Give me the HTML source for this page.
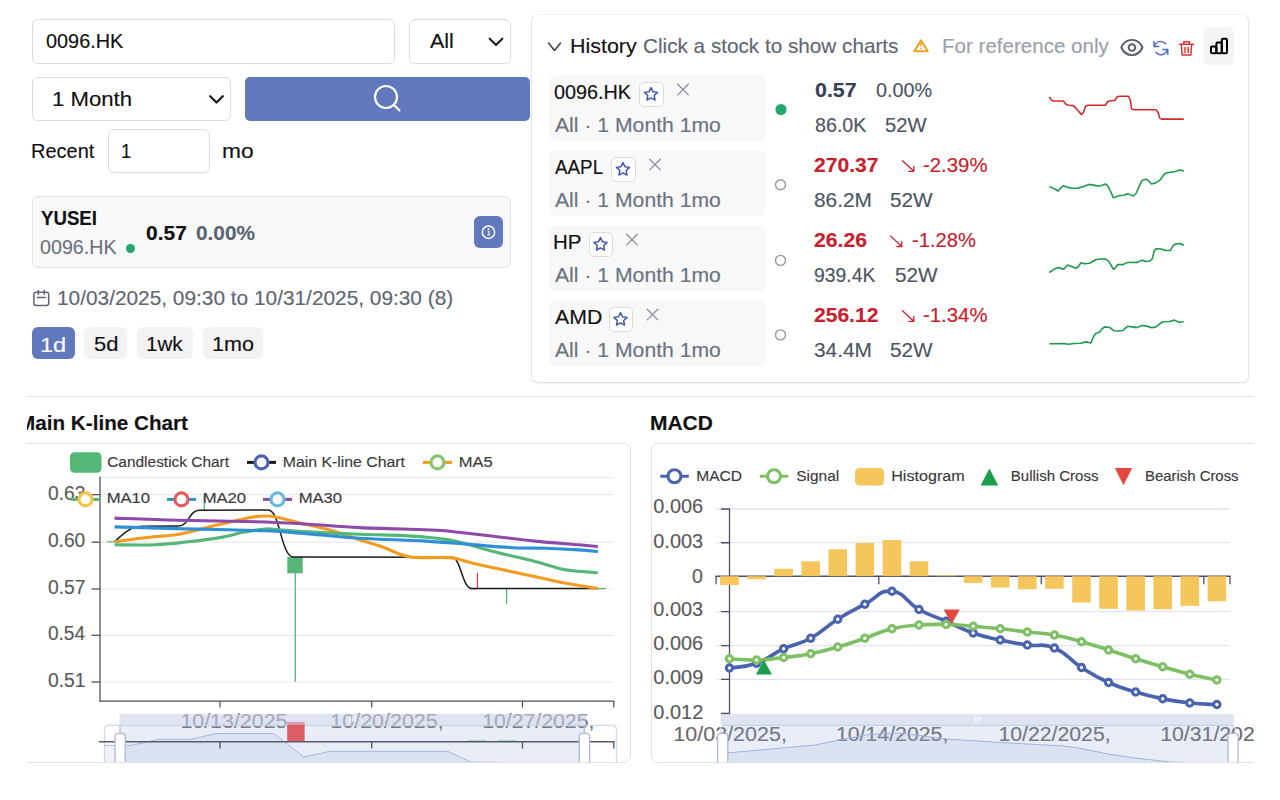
<!DOCTYPE html>
<html lang="en"><head><meta charset="utf-8"><title>Stock dashboard</title>
<style>
html,body{margin:0;padding:0}
body{width:1280px;height:800px;position:relative;overflow:hidden;background:#fff;font-family:"Liberation Sans",sans-serif;}
.t{position:absolute;white-space:nowrap;line-height:1;transform-origin:0 50%;display:block;-webkit-text-stroke:0.15px currentColor}
.b{position:absolute;box-sizing:border-box}
.inp{background:#fff;border:1px solid #dcdcdc;border-radius:6px}
svg{position:absolute;left:0;top:0;overflow:visible}
svg text{font-family:"Liberation Sans",sans-serif}
</style></head><body>
<div class="b inp" style="left:32px;top:19px;width:363px;height:44.5px"></div>
<span class="t" style="left:45.80px;top:30.00px;font-size:21px;color:#111;transform:scaleX(0.9462);">0096.HK</span>
<div class="b inp" style="left:409px;top:19px;width:102px;height:44.5px"></div>
<span class="t" style="left:429.50px;top:30.00px;font-size:21px;color:#111;transform:scaleX(1.0204);">All</span>
<div class="b inp" style="left:32px;top:77px;width:199px;height:44px"></div>
<span class="t" style="left:52.09px;top:88.00px;font-size:21px;color:#111;transform:scaleX(1.0552);">1 Month</span>
<div class="b" style="left:245px;top:76.6px;width:285.2px;height:44px;background:#5f79bc;border-radius:5px"></div>
<span class="t" style="left:30.90px;top:140.00px;font-size:21px;color:#111;transform:scaleX(0.9532);">Recent</span>
<div class="b inp" style="left:108px;top:128.6px;width:102px;height:44px"></div>
<span class="t" style="left:121.42px;top:140.00px;font-size:21px;color:#111;transform:scaleX(0.8758);">1</span>
<span class="t" style="left:221.77px;top:140.00px;font-size:21px;color:#111;transform:scaleX(1.0839);">mo</span>
<div class="b" style="left:32px;top:195.5px;width:479px;height:72px;background:#f9f9f9;border:1px solid #e4e4e4;border-radius:6px"></div>
<span class="t" style="left:40.72px;top:207.00px;font-size:21px;color:#111;font-weight:700;transform:scaleX(0.8873);">YUSEI</span>
<span class="t" style="left:39.81px;top:236.00px;font-size:21px;color:#6b7280;transform:scaleX(0.9369);">0096.HK</span>
<div class="b" style="left:125.5px;top:243.5px;width:9px;height:9px;border-radius:50%;background:#22a86e"></div>
<span class="t" style="left:145.52px;top:222.00px;font-size:21px;color:#111;font-weight:700;transform:scaleX(0.9995);">0.57</span>
<span class="t" style="left:196.02px;top:222.00px;font-size:21px;color:#5b6472;font-weight:700;transform:scaleX(0.9910);">0.00%</span>
<div class="b" style="left:474px;top:216px;width:29px;height:32px;background:#5f79bc;border-radius:6px"></div>
<span class="t" style="left:56.94px;top:287.00px;font-size:21px;color:#5f6672;transform:scaleX(0.9922);">10/03/2025, 09:30 to 10/31/2025, 09:30 (8)</span>
<div class="b" style="left:32px;top:327px;width:42.5px;height:32px;background:#5f79bc;border-radius:6px"></div>
<span class="t" style="left:40.23px;top:334.00px;font-size:21px;color:#fff;transform:scaleX(1.1233);">1d</span>
<div class="b" style="left:84px;top:327px;width:43px;height:32px;background:#f3f3f4;border-radius:6px"></div>
<span class="t" style="left:93.62px;top:333.00px;font-size:21px;color:#111;transform:scaleX(1.0490);">5d</span>
<div class="b" style="left:137px;top:327px;width:56px;height:32px;background:#f3f3f4;border-radius:6px"></div>
<span class="t" style="left:146.45px;top:333.00px;font-size:21px;color:#111;transform:scaleX(0.9816);">1wk</span>
<div class="b" style="left:203px;top:327px;width:60px;height:32px;background:#f3f3f4;border-radius:6px"></div>
<span class="t" style="left:212.13px;top:333.00px;font-size:21px;color:#111;transform:scaleX(1.0278);">1mo</span>
<svg width="1280" height="800" viewBox="0 0 1280 800">
<path d="M489.7,38.7 L496.0,45 L502.3,38.7" fill="none" stroke="#1a1a1a" stroke-width="2.2" stroke-linecap="round" stroke-linejoin="round"/>
<path d="M210.2,96.2 L216.5,102.5 L222.8,96.2" fill="none" stroke="#1a1a1a" stroke-width="2.2" stroke-linecap="round" stroke-linejoin="round"/>
<circle cx="386" cy="97" r="11" fill="none" stroke="#fff" stroke-width="2.2"/>
<path d="M394.2,105.2 L399.5,110.5" stroke="#fff" stroke-width="2.2" stroke-linecap="round"/>
<circle cx="488.5" cy="232.2" r="6.2" fill="none" stroke="#fff" stroke-width="1.5"/>
<circle cx="488.5" cy="229.2" r="0.9" fill="#fff"/><path d="M487.6,231.2h1.3v3.6M487.4,234.9h2.4" stroke="#fff" stroke-width="1" fill="none"/>
<rect x="33.9" y="292.3" width="14.8" height="13.1" rx="2.2" fill="none" stroke="#5f6672" stroke-width="1.5"/>
<path d="M37.3,297.6H45.3M38.3,290.5v3.8M44.3,290.5v3.8" stroke="#5f6672" stroke-width="1.5" fill="none" stroke-linecap="round"/>
</svg>
<div class="b" style="left:531px;top:14px;width:718px;height:368.5px;background:#fff;border:1px solid #e4e5e8;border-top-color:#f1f2f4;border-bottom-color:#dddfe3;border-radius:7px;box-shadow:0 1px 2px rgba(0,0,0,0.05)"></div>
<span class="t" style="left:569.53px;top:35.00px;font-size:21px;color:#111;transform:scaleX(1.0215);">History</span>
<span class="t" style="left:642.71px;top:35.00px;font-size:21px;color:#5f6672;transform:scaleX(0.9860);">Click a stock to show charts</span>
<span class="t" style="left:942.36px;top:35.00px;font-size:21px;color:#9aa0aa;transform:scaleX(0.9790);">For reference only</span>
<div class="b" style="left:1203px;top:27px;width:31px;height:38px;background:#f3f4f6;border-radius:6px"></div>
<div class="b" style="left:549px;top:75px;width:217px;height:65.5px;background:#f8f8f9;border-radius:6px"></div>
<span class="t" style="left:554.31px;top:81.00px;font-size:21px;color:#111;transform:scaleX(0.9431);">0096.HK</span>
<div class="b" style="left:639px;top:82px;width:24.5px;height:24.5px;background:#fff;border:1px solid #dcdcdc;border-radius:5px"></div>
<span class="t" style="left:555.00px;top:114.00px;font-size:21px;color:#6b7280;transform:scaleX(1.0080);">All · 1 Month 1mo</span>
<div class="b" style="left:549px;top:150px;width:217px;height:65.5px;background:#f8f8f9;border-radius:6px"></div>
<span class="t" style="left:555.00px;top:156.00px;font-size:21px;color:#111;transform:scaleX(0.8958);">AAPL</span>
<div class="b" style="left:611px;top:157px;width:24.5px;height:24.5px;background:#fff;border:1px solid #dcdcdc;border-radius:5px"></div>
<span class="t" style="left:555.00px;top:189.00px;font-size:21px;color:#6b7280;transform:scaleX(1.0080);">All · 1 Month 1mo</span>
<div class="b" style="left:549px;top:225px;width:217px;height:65.5px;background:#f8f8f9;border-radius:6px"></div>
<span class="t" style="left:553.36px;top:231.00px;font-size:21px;color:#111;transform:scaleX(0.9770);">HP</span>
<div class="b" style="left:588.5px;top:232px;width:24.5px;height:24.5px;background:#fff;border:1px solid #dcdcdc;border-radius:5px"></div>
<span class="t" style="left:555.00px;top:264.00px;font-size:21px;color:#6b7280;transform:scaleX(1.0080);">All · 1 Month 1mo</span>
<div class="b" style="left:549px;top:300px;width:217px;height:65.5px;background:#f8f8f9;border-radius:6px"></div>
<span class="t" style="left:555.00px;top:306.00px;font-size:21px;color:#111;transform:scaleX(1.0126);">AMD</span>
<div class="b" style="left:608.5px;top:307px;width:24.5px;height:24.5px;background:#fff;border:1px solid #dcdcdc;border-radius:5px"></div>
<span class="t" style="left:555.00px;top:339.00px;font-size:21px;color:#6b7280;transform:scaleX(1.0080);">All · 1 Month 1mo</span>
<span class="t" style="left:814.75px;top:79.00px;font-size:21px;color:#374151;font-weight:700;transform:scaleX(1.0186);">0.57</span>
<span class="t" style="left:875.56px;top:79.00px;font-size:21px;color:#4b5563;transform:scaleX(0.9429);">0.00%</span>
<span class="t" style="left:814.71px;top:114.00px;font-size:21px;color:#4b5563;transform:scaleX(0.9375);">86.0K</span>
<span class="t" style="left:885.44px;top:114.00px;font-size:21px;color:#4b5563;transform:scaleX(0.9630);">52W</span>
<span class="t" style="left:814.37px;top:154.00px;font-size:21px;color:#c8202c;font-weight:700;transform:scaleX(1.0033);">270.37</span>
<span class="t" style="left:923.19px;top:154.00px;font-size:21px;color:#c8202c;transform:scaleX(0.9693);">-2.39%</span>
<span class="t" style="left:814.17px;top:189.00px;font-size:21px;color:#4b5563;transform:scaleX(0.9936);">86.2M</span>
<span class="t" style="left:890.42px;top:189.00px;font-size:21px;color:#4b5563;transform:scaleX(0.9866);">52W</span>
<span class="t" style="left:814.37px;top:229.00px;font-size:21px;color:#c8202c;font-weight:700;transform:scaleX(1.0071);">26.26</span>
<span class="t" style="left:911.69px;top:229.00px;font-size:21px;color:#c8202c;transform:scaleX(0.9616);">-1.28%</span>
<span class="t" style="left:814.13px;top:264.00px;font-size:21px;color:#4b5563;transform:scaleX(0.9234);">939.4K</span>
<span class="t" style="left:895.42px;top:264.00px;font-size:21px;color:#4b5563;transform:scaleX(0.9866);">52W</span>
<span class="t" style="left:814.37px;top:304.00px;font-size:21px;color:#c8202c;font-weight:700;transform:scaleX(1.0017);">256.12</span>
<span class="t" style="left:923.19px;top:304.00px;font-size:21px;color:#c8202c;transform:scaleX(0.9693);">-1.34%</span>
<span class="t" style="left:814.27px;top:339.00px;font-size:21px;color:#4b5563;transform:scaleX(0.9917);">34.4M</span>
<span class="t" style="left:890.42px;top:339.00px;font-size:21px;color:#4b5563;transform:scaleX(0.9866);">52W</span>
<svg width="1280" height="800" viewBox="0 0 1280 800">
<path d="M548.5,43 L554.5,50.5 L560.5,43" fill="none" stroke="#444" stroke-width="1.6" stroke-linecap="round" stroke-linejoin="round"/>
<path d="M921,40.4 L927.7,51.2 H914.3 Z" fill="none" stroke="#efa21f" stroke-width="2" stroke-linejoin="round"/>
<path d="M921,43.4v2.6" stroke="#efa21f" stroke-width="1.4" stroke-linecap="round"/><circle cx="921" cy="48.4" r="0.85" fill="#efa21f"/>
<path d="M1121.3,47.5 C1123.6,42.4 1127.6,39.9 1131.9,39.9 C1136.2,39.9 1140.2,42.4 1142.5,47.5 C1140.2,52.6 1136.2,55.1 1131.9,55.1 C1127.6,55.1 1123.6,52.6 1121.3,47.5 Z" fill="none" stroke="#555b66" stroke-width="1.9" stroke-linejoin="round"/>
<circle cx="1131.9" cy="47.6" r="3.3" fill="none" stroke="#555b66" stroke-width="1.9"/>
<path d="M1154.5,46.5 A6.3,6.3 0 0 1 1165.6,43.8 M1167.2,49.6 A6.3,6.3 0 0 1 1156,52.2" fill="none" stroke="#4a70cc" stroke-width="1.5" stroke-linecap="round"/>
<path d="M1154,41.8v4.8h4.8M1167.8,54.2v-4.8h-4.8" fill="none" stroke="#4a70cc" stroke-width="1.5" stroke-linecap="round" stroke-linejoin="round"/>
<path d="M1179.6,44.3h14M1183.8,44v-2.2h5.6v2.2M1181.3,44.5l0.9,10.6h8.6l0.9,-10.6M1185,47.5v5M1188.2,47.5v5" fill="none" stroke="#d93636" stroke-width="1.5" stroke-linecap="round" stroke-linejoin="round"/>
<g fill="none" stroke="#000" stroke-width="2" stroke-linejoin="round"><rect x="1211" y="46.6" width="5.4" height="6.7" rx="1.2"/><rect x="1216.4" y="42.6" width="5.4" height="10.7" rx="1.2"/><rect x="1221.8" y="38.8" width="5.2" height="14.5" rx="1.2"/></g>
<polygon points="651.00,87.60 652.97,91.79 657.56,92.37 654.19,95.54 655.06,100.08 651.00,97.85 646.94,100.08 647.81,95.54 644.44,92.37 649.03,91.79" fill="none" stroke="#4155af" stroke-width="1.5" stroke-linejoin="round"/>
<path d="M677.7,84.3 l10.6,10.6 M688.3,84.3 l-10.6,10.6" stroke="#8a8f98" stroke-width="1.3" stroke-linecap="round"/>
<path d="M1049.31,96.81 L1051.00,99.63 L1053.44,100.94 L1063.38,100.94 L1066.00,104.31 L1068.44,105.25 L1073.50,105.63 L1077.25,109.75 L1081.56,114.63 L1083.44,112.19 L1085.69,106.00 L1088.13,105.25 L1105.38,105.25 L1107.81,101.50 L1110.25,100.75 L1114.75,100.56 L1117.19,96.81 L1119.63,96.25 L1128.44,96.25 L1130.31,100.00 L1131.63,109.00 L1134.06,109.75 L1156.00,109.75 L1158.25,112.75 L1159.75,118.38 L1161.63,119.13 L1183.75,119.13" fill="none" stroke="#d62a2a" stroke-width="1.6" stroke-linejoin="round" stroke-linecap="butt"/>
<polygon points="623.00,162.60 624.97,166.79 629.56,167.37 626.19,170.54 627.06,175.08 623.00,172.85 618.94,175.08 619.81,170.54 616.44,167.37 621.03,166.79" fill="none" stroke="#4155af" stroke-width="1.5" stroke-linejoin="round"/>
<path d="M649.7,159.3 l10.6,10.6 M660.3,159.3 l-10.6,10.6" stroke="#8a8f98" stroke-width="1.3" stroke-linecap="round"/>
<path d="M1049.31,186.63 L1054.38,188.69 L1058.13,190.94 L1060.94,187.75 L1063.38,185.69 L1067.50,187.38 L1072.19,188.31 L1077.81,188.13 L1083.44,186.44 L1089.06,184.38 L1093.75,185.13 L1098.44,186.25 L1102.19,185.31 L1105.00,184.00 L1107.81,185.88 L1110.63,191.50 L1113.44,197.88 L1116.25,196.75 L1119.06,195.63 L1123.75,195.25 L1127.50,193.75 L1130.31,194.88 L1133.13,196.00 L1135.94,193.75 L1138.75,187.19 L1141.94,180.63 L1145.31,179.31 L1148.13,180.25 L1151.50,184.00 L1155.63,182.88 L1160.31,179.88 L1164.06,174.25 L1166.88,172.75 L1174.38,171.81 L1179.06,170.13 L1181.88,170.31 L1183.75,171.25" fill="none" stroke="#1f9a4d" stroke-width="1.6" stroke-linejoin="round" stroke-linecap="butt"/>
<polygon points="600.50,237.60 602.47,241.79 607.06,242.37 603.69,245.54 604.56,250.08 600.50,247.85 596.44,250.08 597.31,245.54 593.94,242.37 598.53,241.79" fill="none" stroke="#4155af" stroke-width="1.5" stroke-linejoin="round"/>
<path d="M626.7,234.3 l10.6,10.6 M637.3,234.3 l-10.6,10.6" stroke="#8a8f98" stroke-width="1.3" stroke-linecap="round"/>
<path d="M1049.31,272.50 L1054.00,269.31 L1058.13,267.44 L1060.94,268.38 L1063.75,269.31 L1067.50,265.00 L1071.63,266.50 L1075.94,268.38 L1078.38,266.50 L1081.00,262.75 L1084.38,263.69 L1089.63,263.31 L1095.63,259.75 L1100.31,259.00 L1104.63,258.81 L1108.38,260.88 L1111.00,265.00 L1113.44,269.31 L1115.31,267.81 L1117.75,264.44 L1122.81,264.63 L1127.50,262.56 L1137.81,262.38 L1141.94,260.13 L1145.88,261.44 L1150.00,261.06 L1152.44,258.44 L1154.13,250.94 L1156.00,248.88 L1161.25,249.06 L1165.38,250.38 L1170.25,250.56 L1173.44,245.31 L1176.25,243.81 L1179.63,243.63 L1182.25,244.38 L1183.75,245.50" fill="none" stroke="#1f9a4d" stroke-width="1.6" stroke-linejoin="round" stroke-linecap="butt"/>
<polygon points="620.50,312.60 622.47,316.79 627.06,317.37 623.69,320.54 624.56,325.08 620.50,322.85 616.44,325.08 617.31,320.54 613.94,317.37 618.53,316.79" fill="none" stroke="#4155af" stroke-width="1.5" stroke-linejoin="round"/>
<path d="M647.2,309.3 l10.6,10.6 M657.8,309.3 l-10.6,10.6" stroke="#8a8f98" stroke-width="1.3" stroke-linecap="round"/>
<path d="M1049.31,343.75 L1063.75,343.56 L1068.44,344.31 L1074.06,343.56 L1080.63,343.19 L1086.25,341.88 L1090.94,343.00 L1093.75,336.25 L1095.63,333.63 L1099.75,331.94 L1102.19,328.75 L1104.63,326.88 L1109.69,327.44 L1114.00,330.81 L1118.13,331.00 L1122.81,330.44 L1127.50,326.31 L1132.19,326.88 L1136.88,327.63 L1141.94,325.56 L1146.63,326.13 L1151.88,327.81 L1156.00,326.88 L1159.38,324.06 L1163.13,321.81 L1169.69,321.44 L1174.38,320.13 L1179.06,322.19 L1183.75,321.81" fill="none" stroke="#1f9a4d" stroke-width="1.6" stroke-linejoin="round" stroke-linecap="butt"/>
<circle cx="781" cy="109.5" r="5.6" fill="#22a86e"/>
<circle cx="780.5" cy="184.7" r="5" fill="#fff" stroke="#97979c" stroke-width="1.4"/>
<circle cx="780.5" cy="260.4" r="5" fill="#fff" stroke="#97979c" stroke-width="1.4"/>
<circle cx="780.5" cy="334.9" r="5" fill="#fff" stroke="#97979c" stroke-width="1.4"/>
<path d="M901.6,160 m0.9,0.7 l11.3,10.6 M913.8000000000001,166.4 v4.9 h-4.9" fill="none" stroke="#c8202c" stroke-width="1.3" stroke-linecap="round" stroke-linejoin="round"/>
<path d="M889.6,235.2 m0.9,0.7 l11.3,10.6 M901.8000000000001,241.6 v4.9 h-4.9" fill="none" stroke="#c8202c" stroke-width="1.3" stroke-linecap="round" stroke-linejoin="round"/>
<path d="M901.6,310 m0.9,0.7 l11.3,10.6 M913.8000000000001,316.4 v4.9 h-4.9" fill="none" stroke="#c8202c" stroke-width="1.3" stroke-linecap="round" stroke-linejoin="round"/>
</svg>
<div class="b" style="left:27px;top:395.5px;width:1227px;height:1.5px;background:#e2e3e6"></div>
<div class="b" style="left:27px;top:400px;width:1227px;height:400px;overflow:hidden"><div class="b" style="left:-27px;top:-400px;width:1280px;height:800px">
<span class="t" style="left:18.16px;top:412.00px;font-size:21px;color:#111;font-weight:700;transform:scaleX(0.9845);">Main K-line Chart</span>
<span class="t" style="left:649.94px;top:412.00px;font-size:21px;color:#111;font-weight:700;transform:scaleX(0.9984);">MACD</span>
<div class="b" style="left:18px;top:443px;width:613px;height:320px;border:1px solid #dfe1e6;border-radius:7px;background:#fff"></div>
<div class="b" style="left:651px;top:443px;width:612px;height:320px;border:1px solid #dfe1e6;border-radius:7px;background:#fff"></div>
<svg width="1280" height="800" viewBox="0 0 1280 800">
<defs><clipPath id="ck"><rect x="20" y="445" width="610" height="317"/></clipPath><clipPath id="cm"><rect x="651.5" y="445" width="610" height="317"/></clipPath></defs>
<g clip-path="url(#ck)">
<path d="M100,477.7H613.6" stroke="#e9e9e9" stroke-width="1.2"/>
<path d="M100,494.7H613.6" stroke="#e9e9e9" stroke-width="1.2"/>
<path d="M100,542.2H613.6" stroke="#e9e9e9" stroke-width="1.2"/>
<path d="M100,589H613.6" stroke="#e9e9e9" stroke-width="1.2"/>
<path d="M100,635.3H613.6" stroke="#e9e9e9" stroke-width="1.2"/>
<path d="M100,682H613.6" stroke="#e9e9e9" stroke-width="1.2"/>
<text x="47.93" y="499.80" font-size="20.5" fill="#5a5a5a" stroke="#5a5a5a" stroke-width="0.15" textLength="37.47" lengthAdjust="spacingAndGlyphs" >0.63</text>
<path d="M91.5,494.7H100" stroke="#4d4d4d" stroke-width="1.25"/>
<text x="47.93" y="547.30" font-size="20.5" fill="#5a5a5a" stroke="#5a5a5a" stroke-width="0.15" textLength="37.37" lengthAdjust="spacingAndGlyphs" >0.60</text>
<path d="M91.5,542.2H100" stroke="#4d4d4d" stroke-width="1.25"/>
<text x="47.92" y="594.10" font-size="20.5" fill="#5a5a5a" stroke="#5a5a5a" stroke-width="0.15" textLength="37.57" lengthAdjust="spacingAndGlyphs" >0.57</text>
<path d="M91.5,589H100" stroke="#4d4d4d" stroke-width="1.25"/>
<text x="47.93" y="640.40" font-size="20.5" fill="#5a5a5a" stroke="#5a5a5a" stroke-width="0.15" textLength="37.17" lengthAdjust="spacingAndGlyphs" >0.54</text>
<path d="M91.5,635.3H100" stroke="#4d4d4d" stroke-width="1.25"/>
<text x="47.92" y="687.10" font-size="20.5" fill="#5a5a5a" stroke="#5a5a5a" stroke-width="0.15" textLength="37.57" lengthAdjust="spacingAndGlyphs" >0.51</text>
<path d="M91.5,682H100" stroke="#4d4d4d" stroke-width="1.25"/>
<text x="180.40" y="728.30" font-size="20.5" fill="#707070" stroke="#707070" stroke-width="0.15" textLength="112.98" lengthAdjust="spacingAndGlyphs" >10/13/2025,</text>
<text x="330.39" y="728.30" font-size="20.5" fill="#707070" stroke="#707070" stroke-width="0.15" textLength="113.24" lengthAdjust="spacingAndGlyphs" >10/20/2025,</text>
<text x="482.16" y="728.30" font-size="20.5" fill="#707070" stroke="#707070" stroke-width="0.15" textLength="112.21" lengthAdjust="spacingAndGlyphs" >10/27/2025,</text>
<path d="M107,541.8H114.6" stroke="#55b776" stroke-width="1.2"/>
<path d="M204.3,495.6V510" stroke="#55b776" stroke-width="1.3"/>
<rect x="287.3" y="557" width="15.4" height="16.3" fill="#55b776"/>
<path d="M295.3,573V681.8" stroke="#55b776" stroke-width="1.3"/>
<path d="M469.5,588.6H477.5M477.4,572.8V588.6" stroke="#e0393e" stroke-width="1.2" fill="none"/>
<path d="M506.6,588.6V604" stroke="#55b776" stroke-width="1.3"/>
<path d="M597.8,588.6H606" stroke="#55b776" stroke-width="1.2"/>
<path d="M114.5,541.75 C122,535 130,526.3 142.5,526.3 L178.6,526 C189,526 189,510.2 199.4,510.2 L268.3,510 C280,510 281,557 293.5,557 L451.9,557.3 C461,557.3 462,588.4 471.6,588.4 L597.8,588.6" fill="none" stroke="#1a1a1a" stroke-width="1.5"/>
<path d="M114.50,541.75 C119.53,541.09 134.20,539.01 144.70,537.80 C155.20,536.59 167.66,536.08 177.50,534.50 C187.34,532.92 194.63,530.48 203.75,528.30 C212.87,526.12 224.17,523.25 232.20,521.40 C240.22,519.55 246.43,518.10 251.90,517.20 C257.37,516.30 260.98,516.03 265.00,516.00 C269.02,515.97 270.53,515.92 276.00,517.00 C281.47,518.08 288.70,520.28 297.80,522.50 C306.90,524.72 320.23,527.38 330.60,530.30 C340.97,533.22 351.45,537.25 360.00,540.00 C368.55,542.75 375.23,544.42 381.90,546.80 C388.57,549.18 395.32,552.60 400.00,554.30 C404.68,556.00 406.67,556.45 410.00,557.00 C413.33,557.55 414.00,557.50 420.00,557.60 C426.00,557.70 440.00,557.43 446.00,557.60 C452.00,557.77 451.38,557.63 456.00,558.60 C460.62,559.57 464.23,561.18 473.75,563.40 C483.27,565.62 499.24,568.90 513.10,571.90 C526.96,574.90 542.78,578.62 556.90,581.40 C571.02,584.18 590.98,587.40 597.80,588.60" fill="none" stroke="#f29c1f" stroke-width="3.1" stroke-linecap="butt" stroke-linejoin="round"/>
<path d="M114.50,544.80 C121.35,544.80 143.28,545.31 155.60,544.80 C167.92,544.29 177.46,542.98 188.40,541.75 C199.34,540.52 212.13,538.98 221.25,537.40 C230.37,535.82 235.81,533.70 243.10,532.30 C250.39,530.90 259.52,529.47 265.00,529.00 C270.48,528.53 268.71,529.02 276.00,529.50 C283.29,529.98 294.75,531.10 308.75,531.90 C322.75,532.70 344.17,533.68 360.00,534.30 C375.83,534.92 390.98,534.94 403.75,535.60 C416.52,536.26 427.49,537.23 436.60,538.25 C445.71,539.27 449.28,539.62 458.40,541.75 C467.52,543.88 478.53,547.73 491.30,551.00 C504.07,554.27 523.33,558.42 535.00,561.40 C546.67,564.38 554.00,567.25 561.30,568.90 C568.60,570.55 572.72,570.65 578.80,571.30 C584.88,571.95 594.63,572.55 597.80,572.80" fill="none" stroke="#55b776" stroke-width="3.1" stroke-linecap="butt" stroke-linejoin="round"/>
<path d="M114.50,526.90 C125.00,527.18 152.42,527.95 177.50,528.60 C202.58,529.25 243.12,529.92 265.00,530.80 C286.88,531.68 292.92,532.67 308.75,533.90 C324.58,535.13 340.52,537.00 360.00,538.20 C379.48,539.40 407.37,540.07 425.60,541.10 C443.83,542.13 454.82,543.30 469.40,544.40 C483.98,545.50 500.33,547.05 513.10,547.70 C525.87,548.35 535.05,547.93 546.00,548.30 C556.95,548.67 570.17,549.35 578.80,549.90 C587.43,550.45 594.63,551.32 597.80,551.60" fill="none" stroke="#2f8fd6" stroke-width="3.1" stroke-linecap="butt" stroke-linejoin="round"/>
<path d="M114.50,518.10 C125.00,518.47 152.42,519.65 177.50,520.30 C202.58,520.95 243.12,521.34 265.00,522.00 C286.88,522.66 292.92,523.32 308.75,524.25 C324.58,525.18 338.69,526.61 360.00,527.60 C381.31,528.59 420.20,529.42 436.60,530.20 C453.00,530.98 449.28,531.33 458.40,532.30 C467.52,533.27 478.53,534.53 491.30,536.00 C504.07,537.47 520.42,539.63 535.00,541.10 C549.58,542.57 568.33,543.88 578.80,544.80 C589.27,545.72 594.63,546.30 597.80,546.60" fill="none" stroke="#8e4aa8" stroke-width="3.1" stroke-linecap="butt" stroke-linejoin="round"/>
<path d="M100,476.5V701.5" stroke="#4d4d4d" stroke-width="1.25"/>
<path d="M99.4,701.2H614.4" stroke="#4d4d4d" stroke-width="1.25"/>
<path d="M220,701.2V707.6" stroke="#4d4d4d" stroke-width="1.25"/>
<path d="M371.7,701.2V707.6" stroke="#4d4d4d" stroke-width="1.25"/>
<path d="M522.5,701.2V707.6" stroke="#4d4d4d" stroke-width="1.25"/>
<path d="M613.8,701.2V707.6" stroke="#4d4d4d" stroke-width="1.25"/>
<rect x="70" y="452.2" width="31.5" height="20.5" rx="4.5" fill="#55b776"/>
<text x="107.23" y="466.60" font-size="15.5" fill="#3a3a3a" stroke="#3a3a3a" stroke-width="0.15" textLength="121.81" lengthAdjust="spacingAndGlyphs" >Candlestick Chart</text>
<path d="M247,462.4H276" stroke="#1a1a1a" stroke-width="3"/><circle cx="261.5" cy="462.4" r="6.5" fill="#fff" stroke="#4a63b6" stroke-width="3.1"/>
<text x="282.73" y="466.60" font-size="15.5" fill="#3a3a3a" stroke="#3a3a3a" stroke-width="0.15" textLength="122.27" lengthAdjust="spacingAndGlyphs" >Main K-line Chart</text>
<path d="M423,462.4H452" stroke="#f29c1f" stroke-width="3"/><circle cx="437.5" cy="462.4" r="6.5" fill="#fff" stroke="#86c56a" stroke-width="3.1"/>
<text x="458.68" y="466.60" font-size="15.5" fill="#3a3a3a" stroke="#3a3a3a" stroke-width="0.15" textLength="34.01" lengthAdjust="spacingAndGlyphs" >MA5</text>
<path d="M71,499.4H100" stroke="#55b776" stroke-width="3"/><circle cx="85.5" cy="499.4" r="6.5" fill="#fff" stroke="#f6c444" stroke-width="3.1"/>
<text x="106.67" y="503.40" font-size="15.5" fill="#3a3a3a" stroke="#3a3a3a" stroke-width="0.15" textLength="43.45" lengthAdjust="spacingAndGlyphs" >MA10</text>
<path d="M167,499.4H196" stroke="#2f8fd6" stroke-width="3"/><circle cx="181.5" cy="499.4" r="6.5" fill="#fff" stroke="#e25c5c" stroke-width="3.1"/>
<text x="202.67" y="503.40" font-size="15.5" fill="#3a3a3a" stroke="#3a3a3a" stroke-width="0.15" textLength="43.45" lengthAdjust="spacingAndGlyphs" >MA20</text>
<path d="M263,499.4H292" stroke="#8e4aa8" stroke-width="3"/><circle cx="277.5" cy="499.4" r="6.5" fill="#fff" stroke="#69b8dc" stroke-width="3.1"/>
<text x="298.67" y="503.40" font-size="15.5" fill="#3a3a3a" stroke="#3a3a3a" stroke-width="0.15" textLength="43.45" lengthAdjust="spacingAndGlyphs" >MA30</text>
<rect x="104.5" y="725.3" width="512" height="45" rx="4" fill="none" stroke="#d2d8e6" stroke-width="1.3"/>
<path d="M104.5,745.4 L131,745.4 L160,739.2 L191,739.2 L216.5,733.5 L273.75,733.5 L303.75,757 L330,751.3 L447.5,751.3 L471,762 L616,764 L616,770 L104.5,770 Z" fill="rgba(160,180,220,0.17)"/>
<path d="M104.5,745.4 L131,745.4 L160,739.2 L191,739.2 L216.5,733.5 L273.75,733.5 L303.75,757 L330,751.3 L447.5,751.3 L471,762 L616,764" fill="none" stroke="#a9badd" stroke-width="1"/>
<rect x="119.5" y="725.3" width="466" height="45" fill="rgba(150,175,225,0.22)"/>
<rect x="287.2" y="721.8" width="17.4" height="19.8" fill="#dc5d63"/>
<path d="M467.5,740.8H486M498,740.8H516.8" stroke="#55b776" stroke-width="1.3" opacity="0.55"/>
<path d="M98.8,741.7H614.5" stroke="#555c6c" stroke-width="1.4"/>
<path d="M220,741.7V748.6" stroke="#555c6c" stroke-width="1.4"/>
<path d="M371.7,741.7V748.6" stroke="#555c6c" stroke-width="1.4"/>
<path d="M522.5,741.7V748.6" stroke="#555c6c" stroke-width="1.4"/>
<path d="M613.8,741.7V748.6" stroke="#555c6c" stroke-width="1.4"/>
<rect x="119.5" y="713.8" width="466.5" height="11" fill="rgba(200,210,234,0.6)"/>
<path d="M350.5,716.8v5M352.8,716.8v5M355.1,716.8v5" stroke="#fff" stroke-width="1.1"/>
<path d="M120,725.5V733.5" stroke="#b3bdd3" stroke-width="1.2"/>
<rect x="115" y="733.3" width="10.3" height="40" rx="3.2" fill="#fff" stroke="#aeb8ce" stroke-width="1.3"/>
<path d="M584.3,725.5V733.5" stroke="#b3bdd3" stroke-width="1.2"/>
<rect x="579.3" y="733.3" width="10.3" height="40" rx="3.2" fill="#fff" stroke="#aeb8ce" stroke-width="1.3"/>
</g>
<g clip-path="url(#cm)">
<path d="M716.2,509H1230" stroke="#e1e5f0" stroke-width="1.3"/>
<path d="M716.2,542.7H1230" stroke="#e1e5f0" stroke-width="1.3"/>
<path d="M716.2,611.6H1230" stroke="#e1e5f0" stroke-width="1.3"/>
<path d="M716.2,645.6H1230" stroke="#e1e5f0" stroke-width="1.3"/>
<path d="M716.2,679.4H1230" stroke="#e1e5f0" stroke-width="1.3"/>
<text x="653.30" y="513.10" font-size="20.5" fill="#5a5a5a" stroke="#5a5a5a" stroke-width="0.15" textLength="49.84" lengthAdjust="spacingAndGlyphs" >0.006</text>
<text x="653.30" y="547.90" font-size="20.5" fill="#5a5a5a" stroke="#5a5a5a" stroke-width="0.15" textLength="49.84" lengthAdjust="spacingAndGlyphs" >0.003</text>
<text x="692.11" y="582.50" font-size="20.5" fill="#5a5a5a" stroke="#5a5a5a" stroke-width="0.15" textLength="10.89" lengthAdjust="spacingAndGlyphs" >0</text>
<text x="653.30" y="615.70" font-size="20.5" fill="#5a5a5a" stroke="#5a5a5a" stroke-width="0.15" textLength="49.84" lengthAdjust="spacingAndGlyphs" >0.003</text>
<text x="653.30" y="650.10" font-size="20.5" fill="#5a5a5a" stroke="#5a5a5a" stroke-width="0.15" textLength="49.84" lengthAdjust="spacingAndGlyphs" >0.006</text>
<text x="653.30" y="684.30" font-size="20.5" fill="#5a5a5a" stroke="#5a5a5a" stroke-width="0.15" textLength="49.95" lengthAdjust="spacingAndGlyphs" >0.009</text>
<text x="653.30" y="718.60" font-size="20.5" fill="#5a5a5a" stroke="#5a5a5a" stroke-width="0.15" textLength="49.95" lengthAdjust="spacingAndGlyphs" >0.012</text>
<path d="M729.5,508.4V714" stroke="#4b5060" stroke-width="1.3"/>
<path d="M715.5,576.3H1230.6" stroke="#4b5060" stroke-width="1.4"/>
<path d="M716.1,576.3V584.3" stroke="#4b5060" stroke-width="1.3"/>
<path d="M878.8,576.3V584.3" stroke="#4b5060" stroke-width="1.3"/>
<path d="M1041.3,576.3V584.3" stroke="#4b5060" stroke-width="1.3"/>
<path d="M1203.8,576.3V584.3" stroke="#4b5060" stroke-width="1.3"/>
<path d="M1230,576.3V584.3" stroke="#4b5060" stroke-width="1.3"/>
<path d="M721,509H729.5" stroke="#4b5060" stroke-width="1.4"/>
<path d="M721,542.7H729.5" stroke="#4b5060" stroke-width="1.4"/>
<path d="M721,611.6H729.5" stroke="#4b5060" stroke-width="1.4"/>
<path d="M721,645.6H729.5" stroke="#4b5060" stroke-width="1.4"/>
<path d="M721,679.4H729.5" stroke="#4b5060" stroke-width="1.4"/>
<path d="M721,713.5H729.5" stroke="#4b5060" stroke-width="1.4"/>
<rect x="720.15" y="576.20" width="18.6" height="8.80" fill="#f5c65c"/>
<rect x="747.23" y="576.20" width="18.6" height="3.10" fill="#f5c65c"/>
<rect x="774.31" y="568.80" width="18.6" height="7.40" fill="#f5c65c"/>
<rect x="801.39" y="561.30" width="18.6" height="14.90" fill="#f5c65c"/>
<rect x="828.47" y="549.30" width="18.6" height="26.90" fill="#f5c65c"/>
<rect x="855.55" y="543.00" width="18.6" height="33.20" fill="#f5c65c"/>
<rect x="882.63" y="540.00" width="18.6" height="36.20" fill="#f5c65c"/>
<rect x="909.71" y="561.30" width="18.6" height="14.90" fill="#f5c65c"/>
<rect x="936.79" y="575.30" width="18.6" height="0.90" fill="#f5c65c"/>
<rect x="963.87" y="576.20" width="18.6" height="6.80" fill="#f5c65c"/>
<rect x="990.95" y="576.20" width="18.6" height="11.30" fill="#f5c65c"/>
<rect x="1018.03" y="576.20" width="18.6" height="13.10" fill="#f5c65c"/>
<rect x="1045.11" y="576.20" width="18.6" height="12.60" fill="#f5c65c"/>
<rect x="1072.19" y="576.20" width="18.6" height="26.30" fill="#f5c65c"/>
<rect x="1099.27" y="576.20" width="18.6" height="32.60" fill="#f5c65c"/>
<rect x="1126.35" y="576.20" width="18.6" height="34.30" fill="#f5c65c"/>
<rect x="1153.43" y="576.20" width="18.6" height="33.10" fill="#f5c65c"/>
<rect x="1180.51" y="576.20" width="18.6" height="29.60" fill="#f5c65c"/>
<rect x="1207.59" y="576.20" width="18.6" height="25.10" fill="#f5c65c"/>
<text x="673.39" y="740.80" font-size="20.5" fill="#6a6a6a" stroke="#6a6a6a" stroke-width="0.15" textLength="113.50" lengthAdjust="spacingAndGlyphs" >10/03/2025,</text>
<text x="835.90" y="740.80" font-size="20.5" fill="#6a6a6a" stroke="#6a6a6a" stroke-width="0.15" textLength="112.47" lengthAdjust="spacingAndGlyphs" >10/14/2025,</text>
<text x="998.41" y="740.80" font-size="20.5" fill="#6a6a6a" stroke="#6a6a6a" stroke-width="0.15" textLength="112.21" lengthAdjust="spacingAndGlyphs" >10/22/2025,</text>
<text x="1160.21" y="740.80" font-size="20.5" fill="#6a6a6a" stroke="#6a6a6a" stroke-width="0.15" textLength="112.26" lengthAdjust="spacingAndGlyphs" >10/31/2025,</text>
<path d="M729.45,668.00 C736.22,666.81 742.99,668.06 756.53,663.25 C770.07,658.44 770.07,655.00 783.61,648.75 C797.15,642.50 797.15,645.62 810.69,638.25 C824.23,630.88 824.23,627.75 837.77,619.25 C851.31,610.75 851.31,611.25 864.85,604.25 C878.39,597.25 878.39,589.94 891.93,591.25 C905.47,592.56 905.47,602.00 919.01,609.50 C932.55,617.00 932.55,615.38 946.09,621.25 C959.63,627.12 959.63,628.31 973.17,633.00 C986.71,637.69 986.71,637.00 1000.25,640.00 C1013.79,643.00 1013.79,643.00 1027.33,645.00 C1040.87,647.00 1040.87,642.38 1054.41,648.00 C1067.95,653.62 1067.95,658.88 1081.49,667.50 C1095.03,676.12 1095.03,676.38 1108.57,682.50 C1122.11,688.62 1122.11,687.94 1135.65,692.00 C1149.19,696.06 1149.19,696.00 1162.73,698.75 C1176.27,701.50 1176.27,701.56 1189.81,703.00 C1203.35,704.44 1210.12,704.12 1216.89,704.50" fill="none" stroke="#4a63ae" stroke-width="3.7" stroke-linecap="round" stroke-linejoin="round"/>
<circle cx="729.45" cy="668" r="3.2" fill="#fff" stroke="#4a63ae" stroke-width="3"/>
<circle cx="756.53" cy="663.25" r="3.2" fill="#fff" stroke="#4a63ae" stroke-width="3"/>
<circle cx="783.61" cy="648.75" r="3.2" fill="#fff" stroke="#4a63ae" stroke-width="3"/>
<circle cx="810.69" cy="638.25" r="3.2" fill="#fff" stroke="#4a63ae" stroke-width="3"/>
<circle cx="837.77" cy="619.25" r="3.2" fill="#fff" stroke="#4a63ae" stroke-width="3"/>
<circle cx="864.85" cy="604.25" r="3.2" fill="#fff" stroke="#4a63ae" stroke-width="3"/>
<circle cx="891.93" cy="591.25" r="3.2" fill="#fff" stroke="#4a63ae" stroke-width="3"/>
<circle cx="919.01" cy="609.5" r="3.2" fill="#fff" stroke="#4a63ae" stroke-width="3"/>
<circle cx="946.09" cy="621.25" r="3.2" fill="#fff" stroke="#4a63ae" stroke-width="3"/>
<circle cx="973.17" cy="633" r="3.2" fill="#fff" stroke="#4a63ae" stroke-width="3"/>
<circle cx="1000.25" cy="640" r="3.2" fill="#fff" stroke="#4a63ae" stroke-width="3"/>
<circle cx="1027.33" cy="645" r="3.2" fill="#fff" stroke="#4a63ae" stroke-width="3"/>
<circle cx="1054.41" cy="648" r="3.2" fill="#fff" stroke="#4a63ae" stroke-width="3"/>
<circle cx="1081.49" cy="667.5" r="3.2" fill="#fff" stroke="#4a63ae" stroke-width="3"/>
<circle cx="1108.57" cy="682.5" r="3.2" fill="#fff" stroke="#4a63ae" stroke-width="3"/>
<circle cx="1135.65" cy="692" r="3.2" fill="#fff" stroke="#4a63ae" stroke-width="3"/>
<circle cx="1162.73" cy="698.75" r="3.2" fill="#fff" stroke="#4a63ae" stroke-width="3"/>
<circle cx="1189.81" cy="703" r="3.2" fill="#fff" stroke="#4a63ae" stroke-width="3"/>
<circle cx="1216.89" cy="704.5" r="3.2" fill="#fff" stroke="#4a63ae" stroke-width="3"/>
<path d="M729.45,658.75 C736.22,659.06 742.99,660.31 756.53,660.00 C770.07,659.69 770.07,659.06 783.61,657.50 C797.15,655.94 797.15,656.38 810.69,653.75 C824.23,651.12 824.23,650.88 837.77,647.00 C851.31,643.12 851.31,642.81 864.85,638.25 C878.39,633.69 878.39,632.06 891.93,628.75 C905.47,625.44 905.47,626.06 919.01,625.00 C932.55,623.94 932.55,624.19 946.09,624.50 C959.63,624.81 959.63,625.19 973.17,626.25 C986.71,627.31 986.71,627.31 1000.25,628.75 C1013.79,630.19 1013.79,630.44 1027.33,632.00 C1040.87,633.56 1040.87,632.56 1054.41,635.00 C1067.95,637.44 1067.95,638.00 1081.49,641.75 C1095.03,645.50 1095.03,645.75 1108.57,650.00 C1122.11,654.25 1122.11,654.56 1135.65,658.75 C1149.19,662.94 1149.19,662.88 1162.73,666.75 C1176.27,670.62 1176.27,670.94 1189.81,674.25 C1203.35,677.56 1210.12,678.56 1216.89,680.00" fill="none" stroke="#7dc063" stroke-width="3.7" stroke-linecap="round" stroke-linejoin="round"/>
<circle cx="729.45" cy="658.75" r="3.2" fill="#fff" stroke="#7dc063" stroke-width="3"/>
<circle cx="756.53" cy="660" r="3.2" fill="#fff" stroke="#7dc063" stroke-width="3"/>
<circle cx="783.61" cy="657.5" r="3.2" fill="#fff" stroke="#7dc063" stroke-width="3"/>
<circle cx="810.69" cy="653.75" r="3.2" fill="#fff" stroke="#7dc063" stroke-width="3"/>
<circle cx="837.77" cy="647" r="3.2" fill="#fff" stroke="#7dc063" stroke-width="3"/>
<circle cx="864.85" cy="638.25" r="3.2" fill="#fff" stroke="#7dc063" stroke-width="3"/>
<circle cx="891.93" cy="628.75" r="3.2" fill="#fff" stroke="#7dc063" stroke-width="3"/>
<circle cx="919.01" cy="625" r="3.2" fill="#fff" stroke="#7dc063" stroke-width="3"/>
<circle cx="946.09" cy="624.5" r="3.2" fill="#fff" stroke="#7dc063" stroke-width="3"/>
<circle cx="973.17" cy="626.25" r="3.2" fill="#fff" stroke="#7dc063" stroke-width="3"/>
<circle cx="1000.25" cy="628.75" r="3.2" fill="#fff" stroke="#7dc063" stroke-width="3"/>
<circle cx="1027.33" cy="632" r="3.2" fill="#fff" stroke="#7dc063" stroke-width="3"/>
<circle cx="1054.41" cy="635" r="3.2" fill="#fff" stroke="#7dc063" stroke-width="3"/>
<circle cx="1081.49" cy="641.75" r="3.2" fill="#fff" stroke="#7dc063" stroke-width="3"/>
<circle cx="1108.57" cy="650" r="3.2" fill="#fff" stroke="#7dc063" stroke-width="3"/>
<circle cx="1135.65" cy="658.75" r="3.2" fill="#fff" stroke="#7dc063" stroke-width="3"/>
<circle cx="1162.73" cy="666.75" r="3.2" fill="#fff" stroke="#7dc063" stroke-width="3"/>
<circle cx="1189.81" cy="674.25" r="3.2" fill="#fff" stroke="#7dc063" stroke-width="3"/>
<circle cx="1216.89" cy="680" r="3.2" fill="#fff" stroke="#7dc063" stroke-width="3"/>
<path d="M763.9,659.8 L771.9,674.6 H755.9 Z" fill="#1a9e4b"/>
<path d="M951.7,624 L943.6,609.4 H959.8 Z" fill="#e5493e"/>
<path d="M660.3,476.3H688.8" stroke="#4a63ae" stroke-width="3"/><circle cx="674.5" cy="476.3" r="6.5" fill="#fff" stroke="#4a63ae" stroke-width="3.1"/>
<text x="696.26" y="481.10" font-size="15.5" fill="#3a3a3a" stroke="#3a3a3a" stroke-width="0.15" textLength="45.81" lengthAdjust="spacingAndGlyphs" >MACD</text>
<path d="M759.8,476.3H788.3" stroke="#7dc063" stroke-width="3"/><circle cx="774.0" cy="476.3" r="6.5" fill="#fff" stroke="#7dc063" stroke-width="3.1"/>
<text x="796.31" y="481.10" font-size="15.5" fill="#3a3a3a" stroke="#3a3a3a" stroke-width="0.15" textLength="42.92" lengthAdjust="spacingAndGlyphs" >Signal</text>
<rect x="855" y="468" width="29" height="17.6" rx="4.5" fill="#f5c65c"/>
<text x="891.21" y="481.10" font-size="15.5" fill="#3a3a3a" stroke="#3a3a3a" stroke-width="0.15" textLength="73.59" lengthAdjust="spacingAndGlyphs" >Histogram</text>
<path d="M989.4,468.6 L998.2,485.6 H980.6 Z" fill="#1a9e4b"/>
<text x="1010.80" y="481.10" font-size="15.5" fill="#3a3a3a" stroke="#3a3a3a" stroke-width="0.15" textLength="87.73" lengthAdjust="spacingAndGlyphs" >Bullish Cross</text>
<path d="M1123.5,485.2 L1114.8,468 H1132.2 Z" fill="#e5493e"/>
<text x="1145.11" y="481.10" font-size="15.5" fill="#3a3a3a" stroke="#3a3a3a" stroke-width="0.15" textLength="93.41" lengthAdjust="spacingAndGlyphs" >Bearish Cross</text>
<rect x="720.5" y="725.3" width="515" height="45" rx="4" fill="none" stroke="#d2d8e6" stroke-width="1.3"/>
<path d="M720.5,753 L727,753 L815,745 L865,735 L892,733 L905,733.5 L946,739 L1000,742.5 L1064,746 L1081,748.5 L1108,754 L1135,758 L1170,762 L1235,764 L1235,770 L720.5,770 Z" fill="rgba(160,180,220,0.17)"/>
<path d="M720.5,753 L727,753 L815,745 L865,735 L892,733 L905,733.5 L946,739 L1000,742.5 L1064,746 L1081,748.5 L1108,754 L1135,758 L1170,762 L1235,764" fill="none" stroke="#a3b6dc" stroke-width="1"/>
<rect x="722.5" y="725.3" width="511" height="45" fill="rgba(150,175,225,0.22)"/>
<rect x="720.5" y="714.2" width="513.3" height="10.8" fill="rgba(200,210,234,0.6)"/>
<path d="M975.2,716.8v5M977.5,716.8v5M979.8,716.8v5" stroke="#fff" stroke-width="1.1"/>
<rect x="717.6" y="733.3" width="10.2" height="40" rx="3.2" fill="#fff" stroke="#aeb8ce" stroke-width="1.3"/>
<rect x="1227.9" y="733.3" width="10.2" height="40" rx="3.2" fill="#fff" stroke="#aeb8ce" stroke-width="1.3"/>
</g>
</svg>
</div></div>
</body></html>
